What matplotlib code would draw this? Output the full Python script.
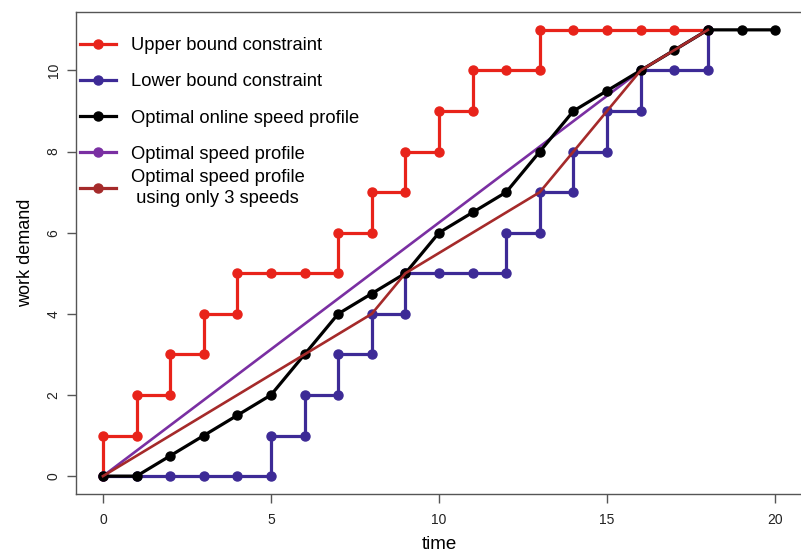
import matplotlib
matplotlib.use("Agg")
import matplotlib.pyplot as plt

plt.rcParams['font.family'] = ['Liberation Sans', 'DejaVu Sans']

# upper bound constraint (step path vertices)
upper_t = [0, 0, 1, 1, 2, 2, 3, 3, 4, 4, 5, 6, 7, 7, 8, 8, 9, 9, 10, 10,
           11, 11, 12, 13, 13, 14, 15, 16, 17, 18]
upper_w = [0, 1, 1, 2, 2, 3, 3, 4, 4, 5, 5, 5, 5, 6, 6, 7, 7, 8, 8, 9,
           9, 10, 10, 10, 11, 11, 11, 11, 11, 11]

# lower bound constraint
lower_t = [0, 1, 2, 3, 4, 5, 5, 6, 6, 7, 7, 8, 8, 9, 9, 10, 11, 12, 12, 13,
           13, 14, 14, 15, 15, 16, 16, 17, 18, 18]
lower_w = [0, 0, 0, 0, 0, 0, 1, 1, 2, 2, 3, 3, 4, 4, 5, 5, 5, 5, 6, 6,
           7, 7, 8, 8, 9, 9, 10, 10, 10, 11]

# optimal online speed profile
online_t = list(range(21))
online_w = [0, 0, 0.5, 1, 1.5, 2, 3, 4, 4.5, 5, 6, 6.5, 7, 8, 9, 9.5, 10,
            10.5, 11, 11, 11]

# optimal speed profile
opt_t = [0, 16, 18]
opt_w = [0, 10, 11]

# optimal speed profile using only 3 speeds
opt3_t = [0, 8, 9, 13, 16, 18]
opt3_w = [0, 4, 5, 7, 10, 11]

labels = ["Upper bound constraint", "Lower bound constraint",
          "Optimal online speed profile", "Optimal speed profile",
          "Optimal speed profile\n using only 3 speeds"]

c_red = "#E8231A"
c_blue = "#3D2A96"
c_black = "#000000"
c_purple = "#7A2FA2"
c_brown = "#A52A2A"
colors = [c_red, c_blue, c_black, c_purple, c_brown]

fig = plt.figure(figsize=(8.01, 5.57), dpi=100)
ax = fig.add_axes([76 / 801, 1 - 494 / 557, (802 - 76) / 801, (494 - 12) / 557])

ax.plot(upper_t, upper_w, color=c_red, lw=2.3, marker='o', ms=6.5)
ax.plot(lower_t, lower_w, color=c_blue, lw=2.3, marker='o', ms=6.5)
ax.plot(opt_t, opt_w, color=c_purple, lw=1.9)
ax.plot(online_t, online_w, color=c_black, lw=2.3, marker='o', ms=6.5)
ax.plot(opt3_t, opt3_w, color=c_brown, lw=1.9)

# legend handles (all shown with markers)
handles = []
for c in colors:
    h, = ax.plot([], [], color=c, lw=2.3, marker='o', ms=6.5)
    handles.append(h)

leg_kw = dict(frameon=False, fontsize=13.2, handlelength=1.95,
              handletextpad=0.85, borderpad=0, borderaxespad=0)
leg1 = ax.legend(handles[:4], labels[:4], loc='center left',
                 bbox_to_anchor=(0.0055, (494 - 100) / 482),
                 labelspacing=1.05, **leg_kw)
ax.add_artist(leg1)
leg2 = ax.legend(handles[4:], labels[4:], loc='center left',
                 bbox_to_anchor=(0.0055, (494 - 188) / 482), **leg_kw)
for t in leg2.get_texts():
    t.set_linespacing(1.3)

ax.set_xlim(-0.8, 20.8)
ax.set_ylim(-0.44, 11.44)
ax.set_xticks([0, 5, 10, 15, 20])
ax.set_yticks([0, 2, 4, 6, 8, 10])
for lab in ax.get_yticklabels():
    lab.set_rotation(90)
    lab.set_va('center')
ax.tick_params(length=6.5, width=1, color='#555555', labelsize=10,
               labelcolor='#222222')
ax.tick_params(axis='x', pad=7)
ax.tick_params(axis='y', pad=4.5)
for s in ax.spines.values():
    s.set_color('#555555')
    s.set_linewidth(1)

ax.set_xlabel("time", fontsize=13.5, labelpad=7)
ax.set_ylabel("work demand", fontsize=13, labelpad=9)

fig.savefig("out.png", dpi=100)
